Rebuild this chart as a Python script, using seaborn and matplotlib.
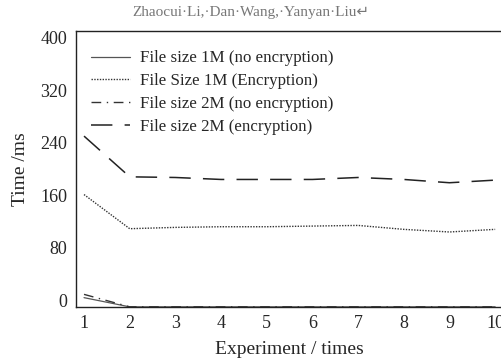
import matplotlib
matplotlib.use("Agg")
import matplotlib.pyplot as plt
import pandas as pd
import seaborn as sns

# Data
experiments = [1, 2, 3, 4, 5, 6, 7, 8, 9, 10]
size1m_plain = [4, -10, -10, -10, -10, -10, -10, -10, -10, -10]
size1m_enc = [161, 109, 111, 112, 112, 113, 114, 108, 104, 108]
size2m_plain = [9, -10, -10, -10, -10, -10, -10, -10, -10, -10]
size2m_enc = [250, 188, 187, 184, 184, 184, 187, 184, 179, 183]

labels = [
    "File size 1M (no encryption)",
    "File Size 1M (Encryption)",
    "File size 2M (no encryption)",
    "File size 2M (encryption)",
]
yticks = [0, 80, 160, 240, 320, 400]

sns.set_style("white")
plt.rcParams["font.family"] = ["Liberation Serif", "DejaVu Serif"]

fig = plt.figure(figsize=(5.02, 3.61), dpi=100)
ax = fig.add_axes([0.151, 0.15, 0.849, 0.764])

series = [size1m_plain, size1m_enc, size2m_plain, size2m_enc]
styles = [
    dict(linestyle="-", color="#555555", linewidth=0.9),
    dict(linestyle=(0, (1, 1)), color="#333333", linewidth=1.0),
    dict(linestyle=(0, (7, 4, 1, 4)), color="#333333", linewidth=1.0),
    dict(linestyle=(0, (14, 8)), color="#222222", linewidth=1.1),
]
for vals, lab, st in zip(series, labels, styles):
    df = pd.DataFrame({"x": experiments, "y": vals})
    sns.lineplot(data=df, x="x", y="y", ax=ax, label=lab, **st)

ax.set_xlim(0.82, 10.15)
ax.set_ylim(-10, 410)
ax.set_xticks(experiments)
ax.set_yticks(yticks)
ax.tick_params(length=0, labelsize=13, pad=6)
ax.set_xlabel("Experiment / times", fontsize=14, labelpad=6)
ax.set_ylabel("Time /ms", fontsize=14, labelpad=8)

for s in ["left", "bottom", "top"]:
    ax.spines[s].set_visible(True)
    ax.spines[s].set_color("#222222")
    ax.spines[s].set_linewidth(1.0)
ax.spines["right"].set_visible(False)

ax.legend(loc="upper left", bbox_to_anchor=(0.0, 0.985), frameon=False,
          fontsize=12.2, handlelength=2.3, labelspacing=0.4, handletextpad=0.6)

fig.text(0.5, 0.965, "Zhaocui\u00b7Li,\u00b7Dan\u00b7Wang,\u00b7Yanyan\u00b7Liu\u21b5",
         ha="center", va="center", fontsize=11, color="#777777",
         family=["Liberation Serif", "DejaVu Sans"])

fig.savefig("out.png", dpi=100)
